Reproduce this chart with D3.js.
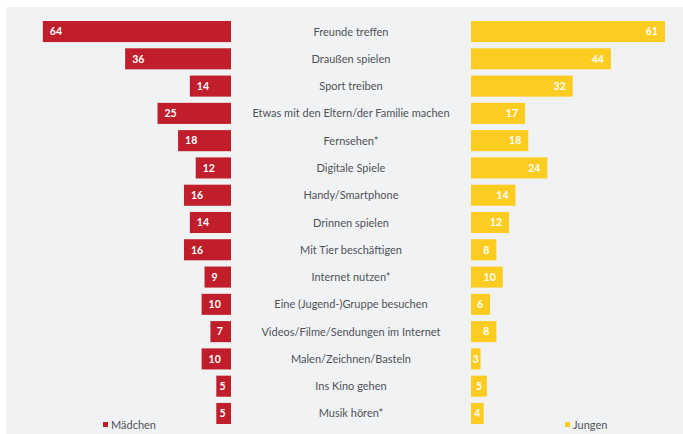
<!DOCTYPE html>
<html>
<head>
<meta charset="utf-8">
<script src="https://cdn.jsdelivr.net/npm/d3@7"></script>
<style>
  html, body { margin: 0; padding: 0; background: #ffffff; }
  svg { display: block; }
</style>
</head>
<body>
<svg id="chart" width="683" height="434"></svg>
<script>
const categories = [
  "Freunde treffen",
  "Draußen spielen",
  "Sport treiben",
  "Etwas mit den Eltern/der Familie machen",
  "Fernsehen*",
  "Digitale Spiele",
  "Handy/Smartphone",
  "Drinnen spielen",
  "Mit Tier beschäftigen",
  "Internet nutzen*",
  "Eine (Jugend-)Gruppe besuchen",
  "Videos/Filme/Sendungen im Internet",
  "Malen/Zeichnen/Basteln",
  "Ins Kino gehen",
  "Musik hören*"
];
const maedchen = [64, 36, 14, 25, 18, 12, 16, 14, 16, 9, 10, 7, 10, 5, 5];
const jungen   = [61, 44, 32, 17, 18, 24, 14, 12, 8, 10, 6, 8, 3, 5, 4];
const seriesNames = ["Mädchen", "Jungen"];

const RED = "#bf1e2a";
const YELLOW = "#fccd20";
const TEXT = "#4f5358";
const FONT = "Lato, 'Open Sans', sans-serif";

const svg = d3.select("#chart");

// panel background
svg.append("rect").attr("x", 6).attr("y", 7).attr("width", 677).attr("height", 427).attr("fill", "#f1f2f4");

const y = d3.scaleBand().domain(categories).range([21, 424]).paddingInner(0.228).paddingOuter(0);
const xL = d3.scaleLinear().domain([0, 100]).range([231, 231 - 294]);
const xR = d3.scaleLinear().domain([0, 100]).range([471, 471 + 318]);

const rows = categories.map((c, i) => ({ cat: c, m: maedchen[i], j: jungen[i] }));

// left bars
svg.append("g").selectAll("rect").data(rows).join("rect")
  .attr("x", d => xL(d.m)).attr("y", d => y(d.cat))
  .attr("width", d => xL(0) - xL(d.m)).attr("height", y.bandwidth())
  .attr("fill", RED);

svg.append("g").selectAll("text").data(rows).join("text")
  .attr("x", d => (xL(0) - xL(d.m)) < 22 ? (xL(d.m) + xL(0)) / 2 - 1 : xL(d.m) + 7)
  .attr("text-anchor", d => (xL(0) - xL(d.m)) < 22 ? "middle" : "start")
  .attr("y", d => y(d.cat) + y.bandwidth() / 2 + 3.8)
  .attr("fill", "#ffffff").attr("font-family", FONT).attr("font-weight", "bold").attr("font-size", 10.5)
  .text(d => d.m);

// right bars
svg.append("g").selectAll("rect").data(rows).join("rect")
  .attr("x", xR(0)).attr("y", d => y(d.cat))
  .attr("width", d => xR(d.j) - xR(0)).attr("height", y.bandwidth())
  .attr("fill", YELLOW);

svg.append("g").selectAll("text").data(rows).join("text")
  .attr("x", d => (xR(d.j) - xR(0)) < 16 ? (xR(0) + xR(d.j)) / 2 : xR(d.j) - 7)
  .attr("text-anchor", d => (xR(d.j) - xR(0)) < 16 ? "middle" : "end")
  .attr("y", d => y(d.cat) + y.bandwidth() / 2 + 3.8)
  .attr("fill", "#ffffff").attr("font-family", FONT).attr("font-weight", "bold").attr("font-size", 10.5)
  .text(d => d.j);

// category labels
svg.append("g").selectAll("text").data(rows).join("text")
  .attr("x", 351).attr("text-anchor", "middle")
  .attr("y", d => y(d.cat) + y.bandwidth() / 2 + 4)
  .attr("fill", TEXT).attr("font-family", FONT).attr("font-size", 11)
  .text(d => d.cat);

// legend
const legend = [
  { name: seriesNames[0], color: RED, x: 103 },
  { name: seriesNames[1], color: YELLOW, x: 565 }
];
const lg = svg.append("g").selectAll("g").data(legend).join("g")
  .attr("transform", d => `translate(${d.x},425)`);
lg.append("rect").attr("x", 0).attr("y", -3).attr("width", 5).attr("height", 5).attr("fill", d => d.color);
lg.append("text").attr("x", 8).attr("y", 3.5)
  .attr("fill", TEXT).attr("font-family", FONT).attr("font-size", 11)
  .text(d => d.name);
</script>
</body>
</html>
